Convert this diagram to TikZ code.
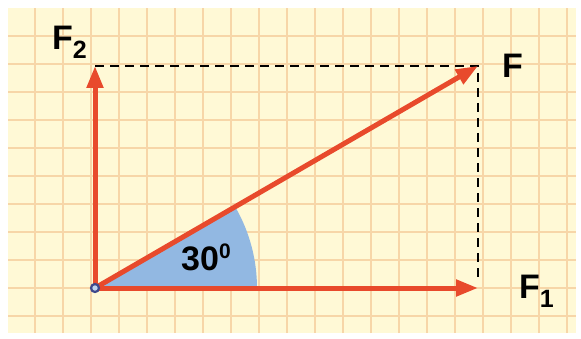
\documentclass[tikz,border=0pt]{standalone}
\usepackage{fontspec}
\setmainfont{Liberation Sans}
\usepackage{tikz}
\usetikzlibrary{arrows.meta}
\definecolor{paper}{RGB}{255,249,214}
\definecolor{gridc}{RGB}{247,214,168}
\definecolor{vecred}{RGB}{232,74,44}
\definecolor{angblue}{RGB}{146,184,226}
\definecolor{dotblue}{RGB}{62,72,140}
\newcommand{\lowidx}[1]{\raisebox{-9pt}{\fontsize{25}{25}\selectfont #1}}
\newcommand{\highidx}[1]{\raisebox{12pt}{\fontsize{21}{21}\selectfont #1}}

\begin{document}
\begin{tikzpicture}[
    x=1pt, y=1pt,
    gridline/.style = {gridc, line width=1.3pt},
    vec/.style = {vecred, line width=5pt, -{Triangle[length=22pt, width=16pt]}},
    helper/.style = {black, line width=2pt, dash pattern=on 9pt off 6pt},
    lbl/.style = {inner sep=0pt, anchor=base west, font=\bfseries\fontsize{34}{34}\selectfont}
    ]

  \useasboundingbox (0,0) rectangle (581,338);
  \fill[paper] (8,5) rectangle (576,330);
  \foreach \gx in {35,63,...,567}
    \draw[gridline] (\gx,5) -- (\gx,330);
  \foreach \gy in {302,274,...,22}
    \draw[gridline] (8,\gy) -- (576,\gy);

  \coordinate (O) at (95,50);
  \coordinate (F1tip) at (478,50);
  \coordinate (F2tip) at (95,272);
  \coordinate (Ftip) at (478,272);
  \coordinate (Fcorner) at (478,56);

  \fill[angblue] (O) -- ++(162,0) arc[start angle=0, end angle=30.1, radius=162] -- cycle;

  \draw[helper] (F2tip) -- (Ftip) -- (Fcorner);

  \draw[vec] (O) -- (F1tip);
  \draw[vec] (O) -- (F2tip);
  \draw[vec] (O) -- (Ftip);

  \filldraw[draw=dotblue, fill=angblue!60!white, line width=2.2pt] (O) circle (4);

  \node[lbl] (F2lbl) at (52,288) {F\lowidx{2}};
  \node[lbl] (Flbl) at (502,260) {F};
  \node[lbl] (F1lbl) at (519,40) {F\lowidx{1}};
  \node[lbl] (anglbl) at (181,68) {30\highidx{0}};
\end{tikzpicture}
\end{document}
